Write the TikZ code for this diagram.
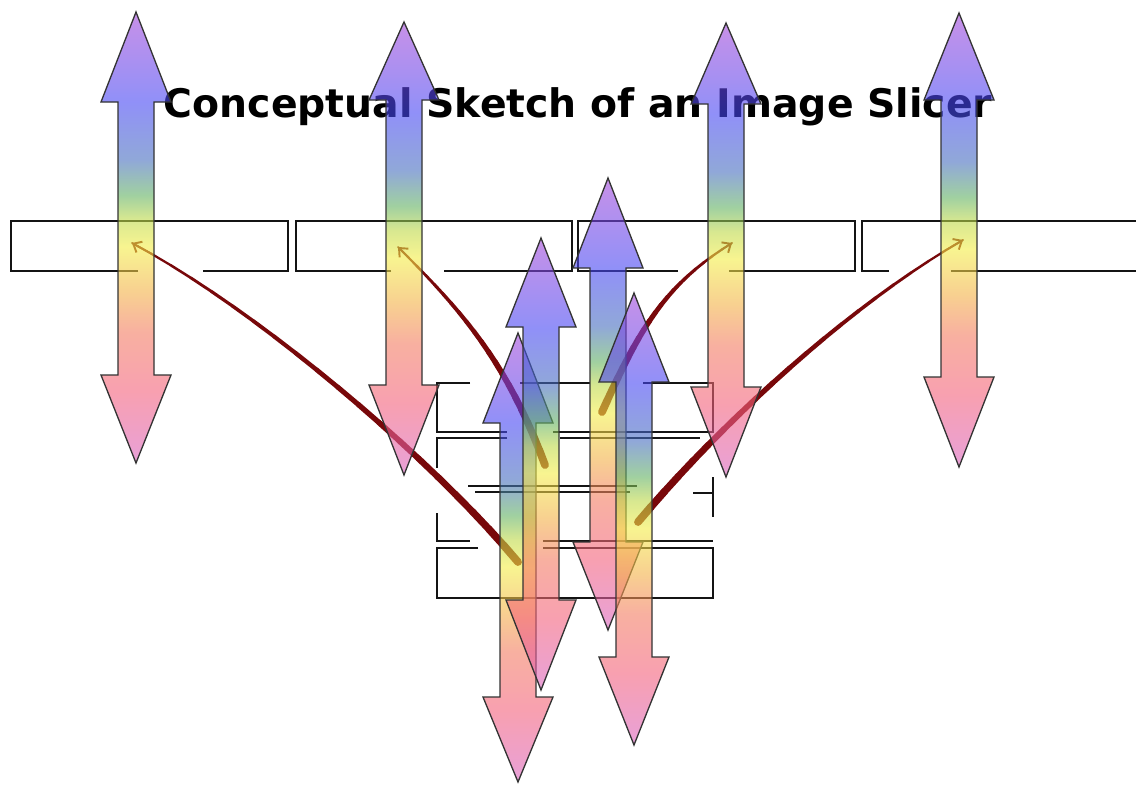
\documentclass[tikz,border=0pt]{standalone}
\usepackage{fontspec}
\setsansfont{DejaVu Sans}
\usetikzlibrary{arrows.meta}
\definecolor{beamviolet}{RGB}{163,70,217}
\definecolor{beamblue}{RGB}{70,70,243}
\definecolor{beamteal}{RGB}{70,110,190}
\definecolor{beamgreen}{RGB}{97,177,97}
\definecolor{beamlime}{RGB}{190,217,70}
\definecolor{beamyellow}{RGB}{243,237,70}
\definecolor{beamorange}{RGB}{243,177,70}
\definecolor{beamsalmon}{RGB}{243,123,97}
\definecolor{beampink}{RGB}{243,97,123}
\definecolor{beamlilac}{RGB}{217,97,190}
\definecolor{feedred}{RGB}{120,8,10}
\definecolor{slitline}{RGB}{20,20,20}

% colour runs bottom -> top, the path box sits between 25bp and 75bp
\pgfdeclareverticalshading{spectrum}{100bp}{%
  color(0bp)=(beamlilac); color(25bp)=(beamlilac); color(33bp)=(beampink);
  color(39.5bp)=(beamsalmon); color(44bp)=(beamorange); color(49bp)=(beamyellow);
  color(52bp)=(beamlime); color(54.7bp)=(beamgreen); color(58.6bp)=(beamteal);
  color(65bp)=(beamblue); color(75bp)=(beamviolet); color(100bp)=(beamviolet)}

\tikzset{
  beam/.style={shade,shading=spectrum,fill opacity=.6,draw=black!80,line width=.75pt},
  slit/.style={draw=slitline,line width=1.65pt},
  feed/.style={draw=feedred,line cap=round},
}

% x, top tip, top head base, bottom head base, bottom tip
\newcommand\beamarrow[5]{%
  \path[beam] (#1,#2) -- (#1+35,#3) -- (#1+18,#3) -- (#1+18,#4) -- (#1+35,#4)
    -- (#1,#5) -- (#1-35,#4) -- (#1-18,#4) -- (#1-18,#3) -- (#1-35,#3) -- cycle;}

% tapered feed curve through #1s, #1a, #1b, #1t
\newcommand\feedcurve[1]{%
  \path (#1s) .. controls (#1a) and (#1b) .. (#1t)
    \foreach \k [evaluate=\k as \p using \k/20] in {0,...,20}{coordinate[pos=\p] (#1-\k)};
  \foreach \k [remember=\k as \j (initially 0),evaluate=\k as \w using 4.6-3.5*\k/20] in {1,...,20}
    \draw[feed,line width=\w pt] (#1-\j) -- (#1-\k);
  \draw[feed,line width=1.1pt,-{Straight Barb[length=4pt,width=7pt]}] (#1-19) -- (#1t);}

\begin{document}
\begin{tikzpicture}[x=0.02cm,y=-0.02cm]
  \useasboundingbox (0,0) rectangle (1136,785);
  \node[font=\sffamily\bfseries\fontsize{22.4}{27}\selectfont,anchor=base,inner sep=0pt] (title) at (578,117) {Conceptual Sketch of an Image Slicer};

  % pseudo slit: four slices end to end
  \draw[slit] (138,271) -- (11,271) -- (11,221) -- (288,221) -- (288,271) -- (203,271);
  \draw[slit] (391,271) -- (296,271) -- (296,221) -- (572,221) -- (572,271) -- (444,271);
  \draw[slit] (678,271) -- (578,271) -- (578,221) -- (855,221) -- (855,271) -- (729,271);
  \draw[slit] (889,271) -- (862,271) -- (862,221) -- (1136,221);
  \draw[slit] (951,271) -- (1136,271);

  % stacked slices
  \draw[slit] (470,383) -- (437,383) -- (437,432) -- (507,432);
  \draw[slit] (520,383) -- (590,383);
  \draw[slit] (643,383) -- (713,383) -- (713,432) -- (553,432);
  \draw[slit] (507,438) -- (437,438) -- (437,468);
  \draw[slit] (560,438) -- (700,438);
  \draw[slit] (468,486) -- (637,486);
  \draw[slit] (475,492) -- (630,492);
  \draw[slit] (693,493) -- (713,493);
  \draw[slit] (713,477) -- (713,517);
  \draw[slit] (437,513) -- (437,541) -- (470,541);
  \draw[slit] (543,541) -- (713,541);
  \draw[slit] (478,548) -- (437,548) -- (437,598) -- (713,598) -- (713,548) -- (543,548);

  % feeds from the stack to the slit
  \coordinate (fas) at (518,562); \coordinate (faa) at (428,455);
  \coordinate (fab) at (256,309); \coordinate (fat) at (132,243);
  \coordinate (fbs) at (545,465); \coordinate (fba) at (507,362);
  \coordinate (fbb) at (462,311); \coordinate (fbt) at (398,247);
  \coordinate (fcs) at (602,412); \coordinate (fca) at (639,330);
  \coordinate (fcb) at (664,285); \coordinate (fct) at (732,243);
  \coordinate (fds) at (638,522); \coordinate (fda) at (722,422);
  \coordinate (fdb) at (850,305); \coordinate (fdt) at (963,240);
  \feedcurve{fa}
  \feedcurve{fb}
  \feedcurve{fc}
  \feedcurve{fd}

  % light beams
  \beamarrow{136}{12}{102}{375}{463}
  \beamarrow{404}{22}{100}{385}{475}
  \beamarrow{726}{23}{104}{387}{477}
  \beamarrow{959}{13}{100}{377}{467}
  \beamarrow{518}{333}{423}{697}{782}
  \beamarrow{541}{238}{327}{600}{690}
  \beamarrow{608}{178}{268}{542}{630}
  \beamarrow{634}{293}{382}{657}{745}
\end{tikzpicture}
\end{document}
